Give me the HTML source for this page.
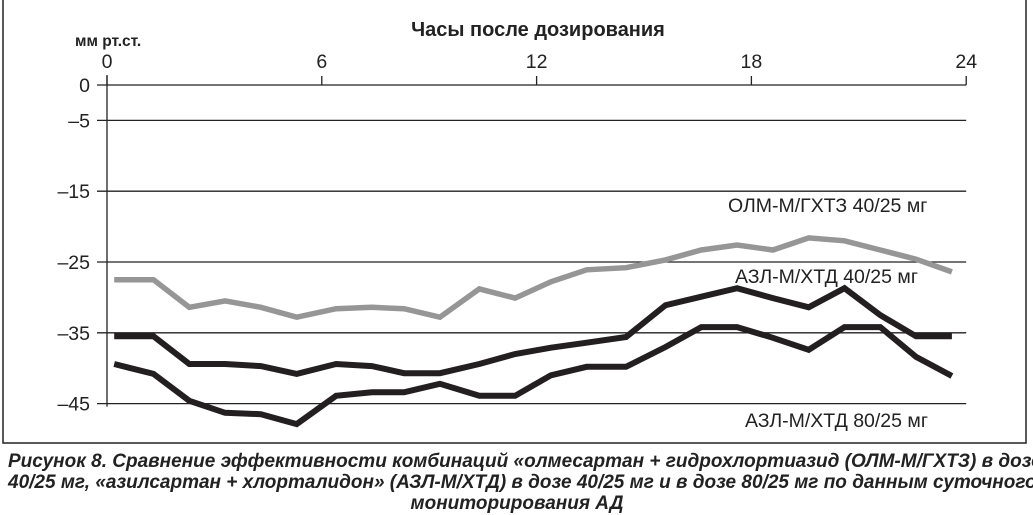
<!DOCTYPE html>
<html><head><meta charset="utf-8">
<style>
html,body{margin:0;padding:0;background:#fff;}
body{width:1033px;height:515px;overflow:hidden;position:relative;font-family:"Liberation Sans",Arial,sans-serif;}
svg{position:absolute;left:0;top:0;}
.cap{position:absolute;left:8px;width:1018px;font-weight:bold;font-style:italic;font-size:19px;line-height:21px;color:#222;white-space:nowrap;}
</style></head><body>
<svg width="1033" height="515">
<rect x="3" y="-2" width="1023" height="445" fill="none" stroke="#222" stroke-width="1.5"/>
<g id="grid"></g><g id="series"></g><g id="labels"></g>
<text x="538" y="36" text-anchor="middle" font-size="20" font-weight="bold" fill="#222">Часы после дозирования</text>
<text x="75" y="46" font-size="15.5" font-weight="bold" fill="#222">мм рт.ст.</text>
<text x="728" y="212" font-size="19.5" fill="#222">ОЛМ-М/ГХТЗ 40/25 мг</text>
<text x="735" y="283" font-size="19.5" fill="#222">АЗЛ-М/ХТД 40/25 мг</text>
<text x="745" y="427" font-size="19.5" fill="#222">АЗЛ-М/ХТД 80/25 мг</text>
</svg>
<div class="cap" style="top:451px;">Рисунок 8. Сравнение эффективности комбинаций «олмесартан + гидрохлортиазид (ОЛМ-М/ГХТЗ) в дозе</div>
<div class="cap" style="top:472px;">40/25 мг, «азилсартан + хлорталидон» (АЗЛ-М/ХТД) в дозе 40/25 мг и в дозе 80/25 мг по данным суточного</div>
<div class="cap" style="top:493px;text-align:center;">мониторирования АД</div>
<script>
const hours = [0.2,1.3,2.3,3.3,4.3,5.3,6.4,7.4,8.3,9.3,10.4,11.4,12.4,13.4,14.5,15.6,16.6,17.6,18.6,19.6,20.6,21.6,22.6,23.6];
const olm = [-27.5,-27.5,-31.4,-30.5,-31.4,-32.8,-31.6,-31.4,-31.6,-32.8,-28.8,-30.1,-27.8,-26.1,-25.8,-24.7,-23.3,-22.6,-23.3,-21.6,-22.0,-23.3,-24.6,-26.4];
const azl40 = [-35.5,-35.5,-39.4,-39.4,-39.7,-40.8,-39.4,-39.7,-40.7,-40.7,-39.4,-38.0,-37.1,-36.4,-35.6,-31.1,-29.9,-28.7,-30.1,-31.4,-28.7,-32.5,-35.5,-35.5];
const azl80 = [-39.4,-40.8,-44.6,-46.3,-46.5,-47.9,-43.9,-43.4,-43.4,-42.2,-43.9,-43.9,-41.0,-39.8,-39.8,-37.0,-34.2,-34.2,-35.7,-37.4,-34.2,-34.2,-38.4,-41.1];
const xTicks = [0,6,12,18,24];
const yTicks = [0,-5,-15,-25,-35,-45];
const NS='http://www.w3.org/2000/svg';
function x(h){return 107 + h*35.8;}
function y(v){return 85 - v*7.08;}
function mk(tag,attrs,parent){const e=document.createElementNS(NS,tag);for(const k in attrs)e.setAttribute(k,attrs[k]);parent.appendChild(e);return e;}
const grid=document.getElementById('grid'), ser=document.getElementById('series'), lab=document.getElementById('labels');
yTicks.forEach(v=>{
  const l=mk('line',{x1:97,x2:x(24),y1:y(v),y2:y(v),stroke:'#222','stroke-width':1.3},grid);
  
  
  const t=mk('text',{x:90,y:y(v)+7,'text-anchor':'end','font-size':19.5,fill:'#222'},lab);
  t.textContent=(v<0?'\u2013'+(-v):String(v));
  
  
});
const ax=mk('line',{x1:x(0),x2:x(0),y1:y(0)-10,y2:y(-45)+3,stroke:'#222','stroke-width':1.3},grid);


xTicks.forEach(h=>{
  const tk=mk('line',{x1:x(h),x2:x(h),y1:y(0)-9,y2:y(0),stroke:'#222','stroke-width':1.3},grid);
  
  
  const t=mk('text',{x:x(h),y:68,'text-anchor':'middle','font-size':19.5,fill:'#222'},lab);
  t.textContent=String(h);
  
  
});
function line(vals,color,w,name){
  const pts=vals.map((v,i)=>x(hours[i]).toFixed(1)+','+y(v).toFixed(1)).join(' ');
  const p=mk('polyline',{points:pts,fill:'none',stroke:color,'stroke-width':w,'stroke-linejoin':'miter'},ser);
  
  
}
line(olm,'#969696',5.5,'series-olm-40-25');
line(azl40,'#231f20',6,'series-azl-40-25');
line(azl80,'#231f20',6,'series-azl-80-25');
</script>
</body></html>
